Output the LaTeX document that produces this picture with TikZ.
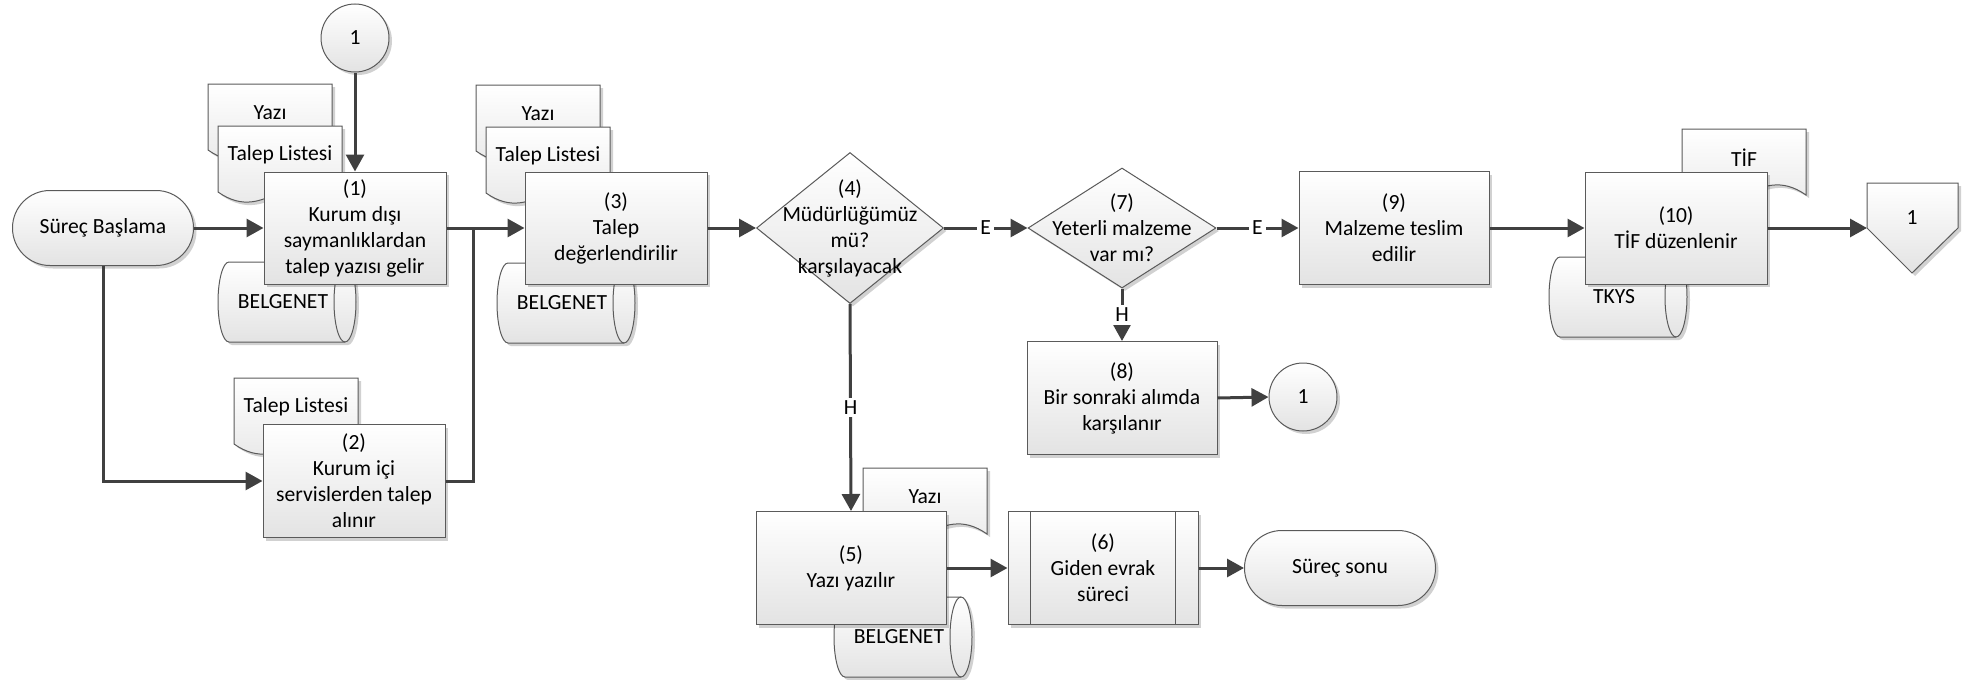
\documentclass[tikz,border=0pt]{standalone}
\usepackage{fontspec}
\setmainfont{Carlito}
\usetikzlibrary{arrows.meta,shadows,calc,shapes.geometric}
\definecolor{linec}{HTML}{404040}
\definecolor{bordc}{HTML}{5A5A5A}
\definecolor{fillb}{HTML}{E3E3E3}
\tikzset{
  shp/.style={draw=bordc, line width=0.5pt, top color=white, bottom color=fillb,
    drop shadow={shadow xshift=1.5pt, shadow yshift=-1.5pt, opacity=0.18, fill=black}},
  proc/.style={shp, rectangle, minimum width=91pt, minimum height=56pt, inner sep=0pt, align=center},
  procw/.style={proc, minimum width=95pt, minimum height=56.5pt},
  term/.style={shp, rectangle, rounded corners=18.7pt, minimum height=37.5pt, inner sep=0pt, align=center},
  dec/.style={shp, diamond, inner sep=0pt},
  conn1/.style={shp, circle, minimum size=34pt, inner sep=0pt},
  docst/.style={shp},
  cylst/.style={shp},
  txt/.style={align=center, inner sep=0pt},
  arr/.style={draw=linec, line width=1.5pt, -{Triangle[length=8.5pt,width=9pt]}},
  ln/.style={draw=linec, line width=1.5pt},
  lab/.style={fill=white, inner sep=1.5pt, text=black}
}
\newcommand\mydoc[4]{%
  \begin{scope}[shift={(#1,#2)}]
    \path[docst] (0,0) -- (124,0) -- (124,66) .. controls (74,31) and (50,101) .. (0,66) -- cycle;
    \node[txt] (#3) at (62,29) {#4};
  \end{scope}}
\newcommand\mycyl[4]{%
  \begin{scope}[shift={(#1,#2)}]
    \path[cylst] (11,0) -- (127,0) arc[start angle=90, end angle=-90, x radius=5.5pt, y radius=20pt]
      -- (11,80) arc[start angle=270, end angle=90, x radius=5.5pt, y radius=20pt] -- cycle;
    \draw[draw=bordc, line width=0.5pt] (127,0) arc[start angle=90, end angle=270, x radius=5.5pt, y radius=20pt];
    \node[txt] (#3) at (65,40) {#4};
  \end{scope}}
\begin{document}
\begin{tikzpicture}[x=0.5pt, y=-0.5pt, font=\fontsize{10.8}{13}\selectfont]
\useasboundingbox (0,0) rectangle (1978,680);

% documents and stored data (behind the process boxes)
\mydoc{208}{84}{d1a}{Yazı}
\mydoc{218}{126}{d1b}{Talep Listesi}
\mycyl{218}{262}{s1}{BELGENET}
\mydoc{234}{378}{d2}{Talep Listesi}
\mydoc{476}{85}{d3a}{Yazı}
\mydoc{486}{127}{d3b}{Talep Listesi}
\mycyl{497}{263}{s3}{BELGENET}
\mydoc{863}{468}{d5}{Yazı}
\mycyl{834}{597}{s5}{BELGENET}
\mydoc{1682}{129}{d10}{TİF}
\mycyl{1549}{257}{s10}{TKYS}

% main nodes
\node[term, minimum width=90.5pt] (start) at (103,228) {Süreç Başlama};
\node[conn1] (c1top) at (355,38) {1};
\node[proc] (b1) at (355,228) {(1)\\Kurum dışı\\saymanlıklardan\\talep yazısı gelir};
\node[proc, minimum height=56.5pt] (b2) at (354,481) {(2)\\Kurum içi\\servislerden talep\\alınır};
\node[proc] (b3) at (616,228) {(3)\\Talep\\değerlendirilir};
\node[dec, minimum width=93.5pt, minimum height=75.5pt] (d4) at (850,228) {};
\node[txt] (d4t) at (d4) {(4)\\Müdürlüğümüz\\mü?\\karşılayacak};
\node[dec, minimum width=94pt, minimum height=60pt] (d7) at (1122,228) {};
\node[txt] (d7t) at (d7) {(7)\\Yeterli malzeme\\var mı?};
\node[procw] (b9) at (1394,228) {(9)\\Malzeme teslim\\edilir};
\node[procw] (b8) at (1122,398) {(8)\\Bir sonraki alımda\\karşılanır};
\node[conn1] (c1b) at (1303,397) {1};
\node[proc] (b10) at (1676,228) {(10)\\TİF düzenlenir};
\path[shp] (1867,183) -- (1958,183) -- (1958,228) -- (1912,273) -- (1867,228) -- cycle;
\node[txt] (off) at (1912,218) {1};
\coordinate (offin) at (1867,228);
\node[procw] (b5) at (851,568) {(5)\\Yazı yazılır};
\node[procw] (b6) at (1103,568) {(6)\\Giden evrak\\süreci};
\draw[bordc, line width=0.5pt] ([xshift=11.5pt]b6.north west) -- ([xshift=11.5pt]b6.south west);
\draw[bordc, line width=0.5pt] ([xshift=-11.5pt]b6.north east) -- ([xshift=-11.5pt]b6.south east);
\node[term, minimum width=95.5pt] (end) at (1340,568) {Süreç sonu};

% connectors
\coordinate (j1) at (473,228);
\draw[arr] (start.east) -- (b1.west);
\draw[arr] (start.south) |- (b2.west);
\draw[arr] (c1top.south) -- (b1.north);
\draw[arr] (b1.east) -- (b3.west);
\draw[ln] (b2.east) -| (j1);
\draw[arr] (b3.east) -- (d4.west);
\draw[arr] (d4.east) -- node[lab] (le1) {E} (d7.west);
\draw[arr] (d7.east) -- node[lab] (le2) {E} (b9.west);
\draw[arr] (d7.south) -- node[lab] (lh1) {H} (b8.north);
\draw[arr] (b8.east) -- (c1b.west);
\draw[arr] (b9.east) -- (b10.west);
\draw[arr] (b10.east) -- (offin);
\draw[arr] (d4.south) -- node[lab] (lh2) {H} (b5.north);
\draw[arr] (b5.east) -- (b6.west);
\draw[arr] (b6.east) -- (end.west);
\end{tikzpicture}
\end{document}
